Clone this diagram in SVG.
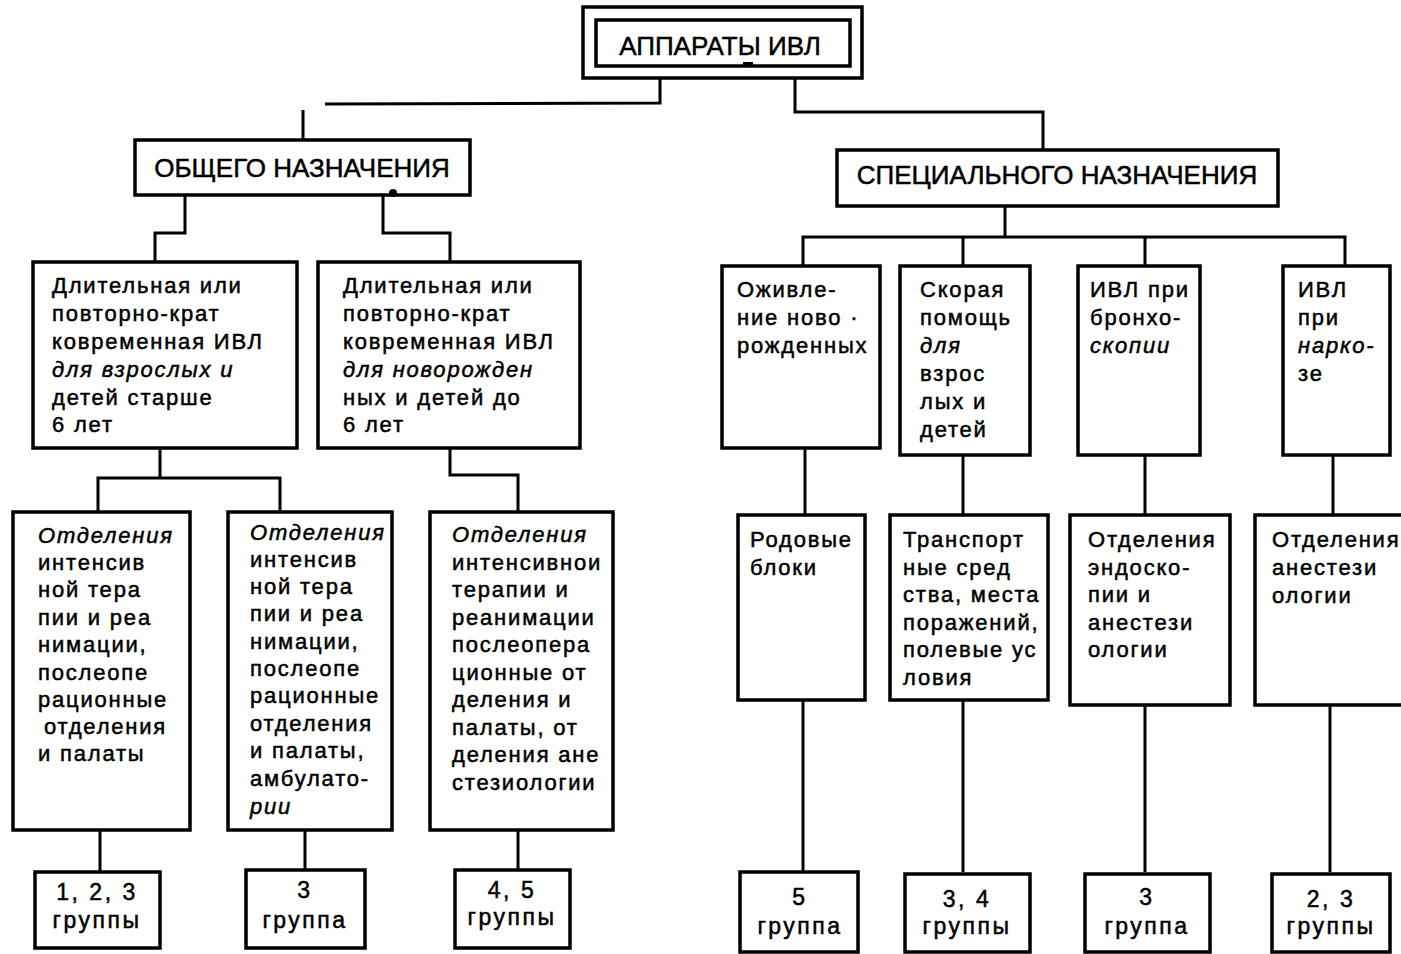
<svg xmlns="http://www.w3.org/2000/svg" width="1401" height="954" viewBox="0 0 1401 954">
<style>
.box{fill:#fff;stroke:#000;stroke-width:3.5}
.ln{fill:none;stroke:#000;stroke-width:3;stroke-linejoin:miter}
text{font-family:"Liberation Sans",Arial,sans-serif;fill:#000;stroke:#000;stroke-width:0.5}
.t{font-size:22px;letter-spacing:1.8px}
.h{font-size:26px}
.g{font-size:23px;letter-spacing:2.5px;text-anchor:middle}
.i{font-style:italic}
</style>
<rect width="1401" height="954" fill="#fff"/>
<g id="connectors">
<polyline class="ln" points="660,78 660,103 325,104"/>
<line class="ln" x1="303" y1="110" x2="303" y2="140"/>
<polyline class="ln" points="795,78 795,112 1043,112 1043,150"/>
<polyline class="ln" points="185,195 185,233 155,233 155,262"/>
<polyline class="ln" points="383,195 383,233 450,233 450,262"/>
<polyline class="ln" points="160,448 160,478"/>
<polyline class="ln" points="98,512 98,478 280,478 280,512"/>
<polyline class="ln" points="450,448 450,475 518,475 518,512"/>
<line class="ln" x1="100" y1="830" x2="100" y2="872"/>
<line class="ln" x1="305" y1="830" x2="305" y2="870"/>
<line class="ln" x1="518" y1="830" x2="518" y2="870"/>
<line class="ln" x1="1005" y1="205" x2="1005" y2="237"/>
<polyline class="ln" points="803,266 803,237 1345,237 1345,266"/>
<line class="ln" x1="963" y1="237" x2="963" y2="266"/>
<line class="ln" x1="1145" y1="237" x2="1145" y2="266"/>
<line class="ln" x1="805" y1="448" x2="805" y2="515"/>
<line class="ln" x1="963" y1="455" x2="963" y2="515"/>
<line class="ln" x1="1145" y1="455" x2="1145" y2="515"/>
<line class="ln" x1="1333" y1="455" x2="1333" y2="515"/>
<line class="ln" x1="803" y1="700" x2="803" y2="872"/>
<line class="ln" x1="963" y1="700" x2="963" y2="872"/>
<line class="ln" x1="1145" y1="705" x2="1145" y2="872"/>
<line class="ln" x1="1330" y1="705" x2="1330" y2="872"/>
</g>
<g id="root">
<rect class="box" x="583" y="7" width="279" height="71"/>
<rect class="box" x="596" y="20" width="254" height="46" stroke-width="2.5"/>
<rect x="743" y="62" width="10" height="5" fill="#000"/>
<text class="h" x="720" y="55" text-anchor="middle" font-size="25">АППАРАТЫ ИВЛ</text>
</g>
<g id="general">
<rect class="box" x="135" y="140" width="335" height="55"/>
<circle cx="393" cy="193" r="4" fill="#000"/>
<text class="h" x="302" y="177" text-anchor="middle">ОБЩЕГО НАЗНАЧЕНИЯ</text>
</g>
<g id="special">
<rect class="box" x="837" y="150" width="441" height="56"/>
<text class="h" x="1057" y="184" text-anchor="middle">СПЕЦИАЛЬНОГО НАЗНАЧЕНИЯ</text>
</g>
<g id="l1">
<rect class="box" x="33" y="262" width="264" height="186"/>
<text class="t"><tspan x="52" y="293">Длительная или</tspan><tspan x="52" y="321">повторно-крат</tspan><tspan x="52" y="349">ковременная ИВЛ</tspan><tspan x="52" y="377" class="i">для взрослых и</tspan><tspan x="52" y="405">детей старше</tspan><tspan x="52" y="432">6 лет</tspan></text>
</g>
<g id="l2">
<rect class="box" x="318" y="262" width="262" height="186"/>
<text class="t"><tspan x="343" y="293">Длительная или</tspan><tspan x="343" y="321">повторно-крат</tspan><tspan x="343" y="349">ковременная ИВЛ</tspan><tspan x="343" y="377" class="i">для новорожден</tspan><tspan x="343" y="405">ных и детей до</tspan><tspan x="343" y="432">6 лет</tspan></text>
</g>
<g id="a">
<rect class="box" x="13" y="512" width="177" height="318"/>
<text class="t"><tspan x="38" y="543" class="i">Отделения</tspan><tspan x="38" y="570">интенсив</tspan><tspan x="38" y="597">ной тера</tspan><tspan x="38" y="625">пии и реа</tspan><tspan x="38" y="652">нимации,</tspan><tspan x="38" y="680">послеопе</tspan><tspan x="38" y="707">рационные</tspan><tspan x="44" y="734">отделения</tspan><tspan x="38" y="761">и палаты</tspan></text>
</g>
<g id="b">
<rect class="box" x="228" y="512" width="164" height="318"/>
<text class="t"><tspan x="250" y="540" class="i">Отделения</tspan><tspan x="250" y="567">интенсив</tspan><tspan x="250" y="594">ной тера</tspan><tspan x="250" y="621">пии и реа</tspan><tspan x="250" y="649">нимации,</tspan><tspan x="250" y="676">послеопе</tspan><tspan x="250" y="703">рационные</tspan><tspan x="250" y="731">отделения</tspan><tspan x="250" y="758">и палаты,</tspan><tspan x="250" y="786">амбулато-</tspan><tspan x="250" y="814" class="i">рии</tspan></text>
</g>
<g id="c">
<rect class="box" x="430" y="512" width="183" height="318"/>
<text class="t"><tspan x="452" y="542" class="i">Отделения</tspan><tspan x="452" y="570">интенсивнои</tspan><tspan x="452" y="597">терапии и</tspan><tspan x="452" y="625">реанимации</tspan><tspan x="452" y="652">послеопера</tspan><tspan x="452" y="680">ционные от</tspan><tspan x="452" y="707">деления и</tspan><tspan x="452" y="735">палаты, от</tspan><tspan x="452" y="762">деления ане</tspan><tspan x="452" y="790">стезиологии</tspan></text>
</g>
<g id="g1">
<rect class="box" x="35" y="872" width="125" height="76"/>
<text class="g"><tspan x="97" y="900">1, 2, 3</tspan><tspan x="97" y="928">группы</tspan></text>
</g>
<g id="g2">
<rect class="box" x="246" y="870" width="119" height="78"/>
<text class="g"><tspan x="305" y="898">3</tspan><tspan x="305" y="928">группа</tspan></text>
</g>
<g id="g3">
<rect class="box" x="455" y="870" width="115" height="78"/>
<text class="g"><tspan x="512" y="898">4, 5</tspan><tspan x="512" y="925">группы</tspan></text>
</g>
<g id="r1">
<rect class="box" x="722" y="266" width="158" height="182"/>
<text class="t"><tspan x="737" y="297">Оживле-</tspan><tspan x="737" y="325">ние ново  ·</tspan><tspan x="737" y="353">рожденных</tspan></text>
</g>
<g id="r2">
<rect class="box" x="900" y="266" width="130" height="189"/>
<text class="t"><tspan x="920" y="297">Скорая</tspan><tspan x="920" y="325">помощь</tspan><tspan x="920" y="353" class="i">для</tspan><tspan x="920" y="381">взрос</tspan><tspan x="920" y="409">лых и</tspan><tspan x="920" y="437">детей</tspan></text>
</g>
<g id="r3">
<rect class="box" x="1078" y="266" width="122" height="189"/>
<text class="t"><tspan x="1090" y="297">ИВЛ при</tspan><tspan x="1090" y="325">бронхо-</tspan><tspan x="1090" y="353" class="i">скопии</tspan></text>
</g>
<g id="r4">
<rect class="box" x="1283" y="266" width="107" height="189"/>
<text class="t"><tspan x="1298" y="297">ИВЛ</tspan><tspan x="1298" y="325">при</tspan><tspan x="1298" y="353" class="i">нарко-</tspan><tspan x="1298" y="381">зе</tspan></text>
</g>
<g id="s1">
<rect class="box" x="738" y="515" width="127" height="185"/>
<text class="t"><tspan x="750" y="547">Родовые</tspan><tspan x="750" y="575">блоки</tspan></text>
</g>
<g id="s2">
<rect class="box" x="890" y="515" width="158" height="185"/>
<text class="t"><tspan x="903" y="547">Транспорт</tspan><tspan x="903" y="575">ные сред</tspan><tspan x="903" y="602">ства, места</tspan><tspan x="903" y="630">поражений,</tspan><tspan x="903" y="657">полевые ус</tspan><tspan x="903" y="685">ловия</tspan></text>
</g>
<g id="s3">
<rect class="box" x="1070" y="515" width="160" height="190"/>
<text class="t"><tspan x="1088" y="547">Отделения</tspan><tspan x="1088" y="575">эндоско-</tspan><tspan x="1088" y="602">пии и</tspan><tspan x="1088" y="630">анестези</tspan><tspan x="1088" y="657">ологии</tspan></text>
</g>
<g id="s4">
<rect class="box" x="1255" y="515" width="170" height="190"/>
<text class="t"><tspan x="1272" y="547">Отделения</tspan><tspan x="1272" y="575">анестези</tspan><tspan x="1272" y="603">ологии</tspan></text>
</g>
<g id="b1">
<rect class="box" x="740" y="872" width="118" height="80"/>
<text class="g"><tspan x="800" y="905">5</tspan><tspan x="800" y="934">группа</tspan></text>
</g>
<g id="b2">
<rect class="box" x="905" y="874" width="125" height="78"/>
<text class="g"><tspan x="967" y="907">3, 4</tspan><tspan x="967" y="934">группы</tspan></text>
</g>
<g id="b3">
<rect class="box" x="1085" y="874" width="125" height="78"/>
<text class="g"><tspan x="1147" y="905">3</tspan><tspan x="1147" y="934">группа</tspan></text>
</g>
<g id="b4">
<rect class="box" x="1272" y="874" width="118" height="78"/>
<text class="g"><tspan x="1331" y="907">2, 3</tspan><tspan x="1331" y="934">группы</tspan></text>
</g>
</svg>
